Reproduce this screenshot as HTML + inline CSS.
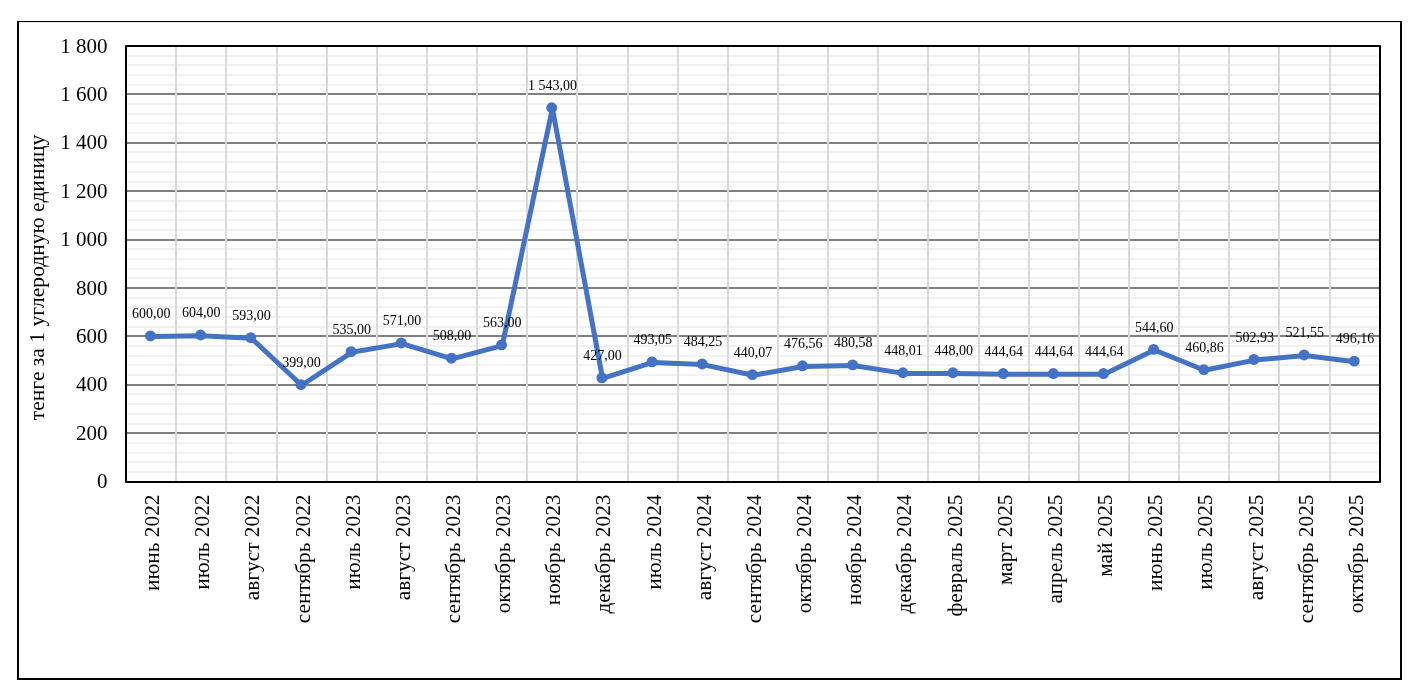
<!DOCTYPE html>
<html lang="ru">
<head>
<meta charset="utf-8">
<title>тенге за 1 углеродную единицу</title>
<style>
html,body{margin:0;padding:0;background:#fff;}
body{width:1422px;height:698px;overflow:hidden;}
svg{display:block;will-change:transform;}
svg text{font-family:"Liberation Serif",serif;fill:#000;}
.ax{font-size:21.33px;}
.ay{font-size:21px;}
.ttl{font-size:21.57px;}
.dl{font-size:14px;}
</style>
</head>
<body>
<svg width="1422" height="698" viewBox="0 0 1422 698">
<rect x="0" y="0" width="1422" height="698" fill="#fff"/>
<g fill="#000">
<rect x="17" y="21" width="2" height="659"/>
<rect x="1400" y="21" width="2" height="659"/>
<rect x="17" y="21" width="1385" height="1.1"/>
<rect x="17" y="678" width="1385" height="2"/>
</g>
<g fill="#f1f1f1">
<rect x="128" y="471" width="1250" height="2"/>
<rect x="128" y="461" width="1250" height="2"/>
<rect x="128" y="452" width="1250" height="2"/>
<rect x="128" y="442" width="1250" height="2"/>
<rect x="128" y="423" width="1250" height="2"/>
<rect x="128" y="413" width="1250" height="2"/>
<rect x="128" y="403" width="1250" height="2"/>
<rect x="128" y="393" width="1250" height="2"/>
<rect x="128" y="374" width="1250" height="2"/>
<rect x="128" y="364" width="1250" height="2"/>
<rect x="128" y="355" width="1250" height="2"/>
<rect x="128" y="345" width="1250" height="2"/>
<rect x="128" y="326" width="1250" height="2"/>
<rect x="128" y="316" width="1250" height="2"/>
<rect x="128" y="306" width="1250" height="2"/>
<rect x="128" y="297" width="1250" height="2"/>
<rect x="128" y="277" width="1250" height="2"/>
<rect x="128" y="268" width="1250" height="2"/>
<rect x="128" y="258" width="1250" height="2"/>
<rect x="128" y="248" width="1250" height="2"/>
<rect x="128" y="229" width="1250" height="2"/>
<rect x="128" y="219" width="1250" height="2"/>
<rect x="128" y="210" width="1250" height="2"/>
<rect x="128" y="200" width="1250" height="2"/>
<rect x="128" y="181" width="1250" height="2"/>
<rect x="128" y="171" width="1250" height="2"/>
<rect x="128" y="161" width="1250" height="2"/>
<rect x="128" y="151" width="1250" height="2"/>
<rect x="128" y="132" width="1250" height="2"/>
<rect x="128" y="122" width="1250" height="2"/>
<rect x="128" y="113" width="1250" height="2"/>
<rect x="128" y="103" width="1250" height="2"/>
<rect x="128" y="84" width="1250" height="2"/>
<rect x="128" y="74" width="1250" height="2"/>
<rect x="128" y="64" width="1250" height="2"/>
<rect x="128" y="55" width="1250" height="2"/>
</g>
<g fill="#7f7f7f">
<rect x="127" y="432" width="1252" height="2"/>
<rect x="127" y="384" width="1252" height="2"/>
<rect x="127" y="335" width="1252" height="2"/>
<rect x="127" y="287" width="1252" height="2"/>
<rect x="127" y="239" width="1252" height="2"/>
<rect x="127" y="190" width="1252" height="2"/>
<rect x="127" y="142" width="1252" height="2"/>
<rect x="127" y="93" width="1252" height="2"/>
</g>
<g fill="#d9d9d9">
<rect x="175" y="47" width="2" height="434"/>
<rect x="225" y="47" width="2" height="434"/>
<rect x="276" y="47" width="2" height="434"/>
<rect x="326" y="47" width="2" height="434"/>
<rect x="376" y="47" width="2" height="434"/>
<rect x="426" y="47" width="2" height="434"/>
<rect x="476" y="47" width="2" height="434"/>
<rect x="526" y="47" width="2" height="434"/>
<rect x="576" y="47" width="2" height="434"/>
<rect x="627" y="47" width="2" height="434"/>
<rect x="677" y="47" width="2" height="434"/>
<rect x="727" y="47" width="2" height="434"/>
<rect x="777" y="47" width="2" height="434"/>
<rect x="827" y="47" width="2" height="434"/>
<rect x="877" y="47" width="2" height="434"/>
<rect x="927" y="47" width="2" height="434"/>
<rect x="978" y="47" width="2" height="434"/>
<rect x="1028" y="47" width="2" height="434"/>
<rect x="1078" y="47" width="2" height="434"/>
<rect x="1128" y="47" width="2" height="434"/>
<rect x="1178" y="47" width="2" height="434"/>
<rect x="1228" y="47" width="2" height="434"/>
<rect x="1278" y="47" width="2" height="434"/>
<rect x="1329" y="47" width="2" height="434"/>
</g>
<rect x="126" y="46" width="1254" height="436" fill="none" stroke="#000" stroke-width="2" stroke-linejoin="round"/>
<polyline points="151.13,336.60 201.29,335.63 251.45,338.29 301.61,385.24 351.77,352.33 401.93,343.62 452.09,358.86 502.25,345.55 552.41,108.39 602.57,378.47 652.73,362.48 702.89,364.61 753.05,375.30 803.21,366.47 853.37,365.50 903.53,373.38 953.69,373.38 1003.85,374.20 1054.01,374.20 1104.17,374.20 1154.33,350.01 1204.49,370.27 1254.65,360.09 1304.81,355.58 1354.97,361.73" fill="none" stroke="#4472c4" stroke-width="5" stroke-linejoin="round" stroke-linecap="round"/>
<g fill="#4472c4">
<circle cx="150.43" cy="335.95" r="5.45"/>
<circle cx="200.59" cy="334.98" r="5.45"/>
<circle cx="250.75" cy="337.64" r="5.45"/>
<circle cx="300.91" cy="384.59" r="5.45"/>
<circle cx="351.07" cy="351.68" r="5.45"/>
<circle cx="401.23" cy="342.97" r="5.45"/>
<circle cx="451.39" cy="358.21" r="5.45"/>
<circle cx="501.55" cy="344.90" r="5.45"/>
<circle cx="551.71" cy="107.74" r="5.45"/>
<circle cx="601.87" cy="377.82" r="5.45"/>
<circle cx="652.03" cy="361.83" r="5.45"/>
<circle cx="702.19" cy="363.96" r="5.45"/>
<circle cx="752.35" cy="374.65" r="5.45"/>
<circle cx="802.51" cy="365.82" r="5.45"/>
<circle cx="852.67" cy="364.85" r="5.45"/>
<circle cx="902.83" cy="372.73" r="5.45"/>
<circle cx="952.99" cy="372.73" r="5.45"/>
<circle cx="1003.15" cy="373.55" r="5.45"/>
<circle cx="1053.31" cy="373.55" r="5.45"/>
<circle cx="1103.47" cy="373.55" r="5.45"/>
<circle cx="1153.63" cy="349.36" r="5.45"/>
<circle cx="1203.79" cy="369.62" r="5.45"/>
<circle cx="1253.95" cy="359.44" r="5.45"/>
<circle cx="1304.11" cy="354.93" r="5.45"/>
<circle cx="1354.27" cy="361.08" r="5.45"/>
</g>
<g class="dl" text-anchor="middle">
<text x="151.13" y="318.20">600,00</text>
<text x="201.29" y="317.23">604,00</text>
<text x="251.45" y="319.89">593,00</text>
<text x="301.61" y="366.84">399,00</text>
<text x="351.77" y="333.93">535,00</text>
<text x="401.93" y="325.22">571,00</text>
<text x="452.09" y="340.46">508,00</text>
<text x="502.25" y="327.15">563,00</text>
<text x="552.41" y="89.99">1 543,00</text>
<text x="602.57" y="360.07">427,00</text>
<text x="652.73" y="344.08">493,05</text>
<text x="702.89" y="346.21">484,25</text>
<text x="753.05" y="356.90">440,07</text>
<text x="803.21" y="348.07">476,56</text>
<text x="853.37" y="347.10">480,58</text>
<text x="903.53" y="354.98">448,01</text>
<text x="953.69" y="354.98">448,00</text>
<text x="1003.85" y="355.80">444,64</text>
<text x="1054.01" y="355.80">444,64</text>
<text x="1104.17" y="355.80">444,64</text>
<text x="1154.33" y="331.61">544,60</text>
<text x="1204.49" y="351.87">460,86</text>
<text x="1254.65" y="341.69">502,93</text>
<text x="1304.81" y="337.18">521,55</text>
<text x="1354.97" y="343.33">496,16</text>
</g>
<g class="ay" text-anchor="end">
<text x="107.6" y="487.50">0</text>
<text x="107.6" y="439.80">200</text>
<text x="107.6" y="390.70">400</text>
<text x="107.6" y="343.30">600</text>
<text x="107.6" y="294.80">800</text>
<text x="107.6" y="245.50">1 000</text>
<text x="107.6" y="197.90">1 200</text>
<text x="107.6" y="148.70">1 400</text>
<text x="107.6" y="101.30">1 600</text>
<text x="107.6" y="52.80">1 800</text>
</g>
<g class="ax" text-anchor="end">
<text transform="translate(159.03,494.5) rotate(-90)">июнь 2022</text>
<text transform="translate(209.19,494.5) rotate(-90)">июль 2022</text>
<text transform="translate(259.35,494.5) rotate(-90)">август 2022</text>
<text transform="translate(309.51,494.5) rotate(-90)">сентябрь 2022</text>
<text transform="translate(359.67,494.5) rotate(-90)">июль 2023</text>
<text transform="translate(409.83,494.5) rotate(-90)">август 2023</text>
<text transform="translate(459.99,494.5) rotate(-90)">сентябрь 2023</text>
<text transform="translate(510.15,494.5) rotate(-90)">октябрь 2023</text>
<text transform="translate(560.31,494.5) rotate(-90)">ноябрь 2023</text>
<text transform="translate(610.47,494.5) rotate(-90)">декабрь 2023</text>
<text transform="translate(660.63,494.5) rotate(-90)">июль 2024</text>
<text transform="translate(710.79,494.5) rotate(-90)">август 2024</text>
<text transform="translate(760.95,494.5) rotate(-90)">сентябрь 2024</text>
<text transform="translate(811.11,494.5) rotate(-90)">октябрь 2024</text>
<text transform="translate(861.27,494.5) rotate(-90)">ноябрь 2024</text>
<text transform="translate(911.43,494.5) rotate(-90)">декабрь 2024</text>
<text transform="translate(961.59,494.5) rotate(-90)">февраль 2025</text>
<text transform="translate(1011.75,494.5) rotate(-90)">март 2025</text>
<text transform="translate(1061.91,494.5) rotate(-90)">апрель 2025</text>
<text transform="translate(1112.07,494.5) rotate(-90)">май 2025</text>
<text transform="translate(1162.23,494.5) rotate(-90)">июнь 2025</text>
<text transform="translate(1212.39,494.5) rotate(-90)">июль 2025</text>
<text transform="translate(1262.55,494.5) rotate(-90)">август 2025</text>
<text transform="translate(1312.71,494.5) rotate(-90)">сентябрь 2025</text>
<text transform="translate(1362.87,494.5) rotate(-90)">октябрь 2025</text>
</g>
<text class="ttl" text-anchor="middle" transform="translate(44,277.45) rotate(-90)">тенге за 1 углеродную единицу</text>
</svg>
</body>
</html>
